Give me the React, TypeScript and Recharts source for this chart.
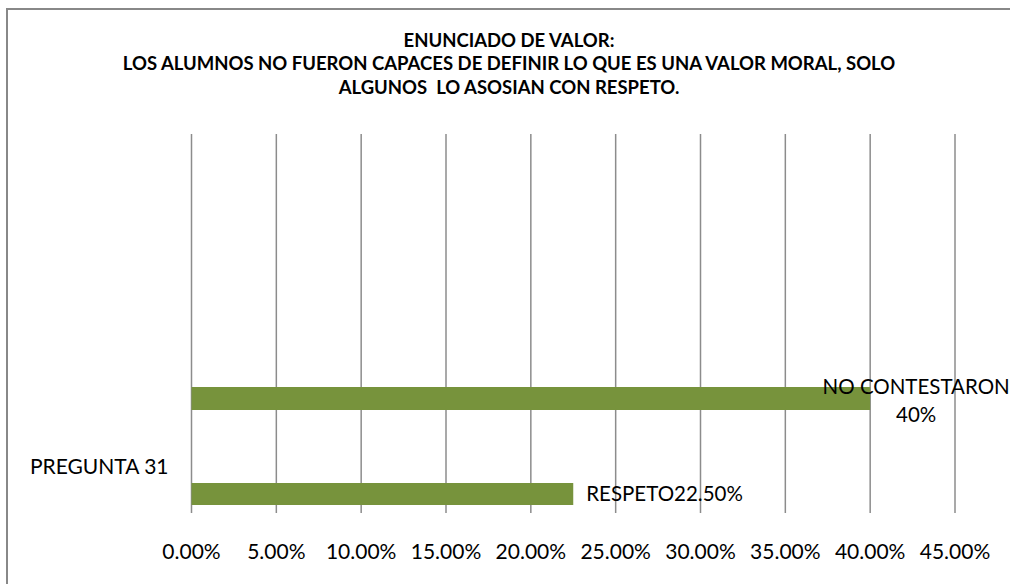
import React from "react";
import { BarChart, Bar, XAxis, YAxis, CartesianGrid, LabelList } from "recharts";

const titleLines = [
  "ENUNCIADO DE VALOR:",
  "LOS ALUMNOS NO FUERON CAPACES DE DEFINIR LO QUE ES UNA VALOR MORAL, SOLO",
  "ALGUNOS  LO ASOSIAN CON RESPETO.",
];
const categories = ["PREGUNTA 31"];
const noContestaronValues = [40];
const respetoValues = [22.5];
const seriesNames = ["NO CONTESTARON", "RESPETO"];
const valueLabels = ["40%", "22.50%"];
const xTicks = [0, 5, 10, 15, 20, 25, 30, 35, 40, 45];

const data = categories.map((c, i) => ({
  name: c,
  noContestaron: noContestaronValues[i],
  respeto: respetoValues[i],
}));

const FONT = "Lato, 'Open Sans', sans-serif";
const GREEN = "#77933C";

const NoContestaronLabel = (props: any) => {
  const { x, y, width, height } = props;
  const cx = x + width + 46;
  const cy = y + height / 2;
  return (
    <text x={cx} y={cy} textAnchor="middle" fontFamily={FONT} fontSize={20.5} fill="#000">
      <tspan x={cx} dy={-5}>{seriesNames[0]}</tspan>
      <tspan x={cx} dy={28}>{valueLabels[0]}</tspan>
    </text>
  );
};

const RespetoLabel = (props: any) => {
  const { x, y, width, height } = props;
  return (
    <text
      x={x + width + 13}
      y={y + height / 2}
      dy={7}
      textAnchor="start"
      fontFamily={FONT}
      fontSize={20.5}
      fill="#000"
    >
      {seriesNames[1] + valueLabels[1]}
    </text>
  );
};

const CatTick = (props: any) => {
  const { x, y, payload } = props;
  return (
    <text x={x - 15} y={y + 21} dy={7} textAnchor="end" fontFamily={FONT} fontSize={21} fill="#000">
      {payload.value}
    </text>
  );
};

const XTick = (props: any) => {
  const { x, y, payload } = props;
  return (
    <text x={x} y={y} dy={7} textAnchor="middle" fontFamily={FONT} fontSize={21} fill="#000">
      {payload.value.toFixed(2) + "%"}
    </text>
  );
};

export default function App() {
  return (
    <div style={{ position: "absolute", left: 0, top: 0, width: 1010, height: 584, background: "#fff", overflow: "hidden" }}>
      <div
        style={{
          position: "absolute",
          left: 6,
          top: 8,
          width: 1100,
          height: 700,
          borderTop: "2px solid #888",
          borderLeft: "2px solid #888",
        }}
      />
      <div
        style={{
          position: "absolute",
          left: 0,
          top: 29,
          width: 1018,
          textAlign: "center",
          fontFamily: FONT,
          fontWeight: 700,
          fontSize: 18.5,
          lineHeight: "23.3px",
          color: "#000",
        }}
      >
        {titleLines.map((t, i) => (
          <div key={i} style={{ whiteSpace: "pre" }}>{t}</div>
        ))}
      </div>
      <div style={{ position: "absolute", left: 0, top: 0 }}>
        <BarChart
          width={1010}
          height={584}
          data={data}
          layout="vertical"
          margin={{ top: 134, right: 55, bottom: 0, left: 0 }}
          barGap={73}
          barCategoryGap={0}
        >
          <CartesianGrid horizontal={false} vertical={true} stroke="#8c8c8c" strokeWidth={1.5} />
          <XAxis
            type="number"
            domain={[0, 45]}
            ticks={xTicks}
            axisLine={false}
            tickLine={false}
            tickSize={0}
            tick={<XTick />}
            tickMargin={39}
            height={71}
            interval={0}
          />
          <YAxis
            type="category"
            dataKey="name"
            width={191.5}
            axisLine={false}
            tickLine={false}
            tick={<CatTick />}
            padding={{ top: 252, bottom: 7 }}
          />
          <Bar dataKey="noContestaron" fill={GREEN} barSize={23} isAnimationActive={false}>
            <LabelList dataKey="noContestaron" content={<NoContestaronLabel />} />
          </Bar>
          <Bar dataKey="respeto" fill={GREEN} barSize={22} isAnimationActive={false}>
            <LabelList dataKey="respeto" content={<RespetoLabel />} />
          </Bar>
        </BarChart>
      </div>
    </div>
  );
}
